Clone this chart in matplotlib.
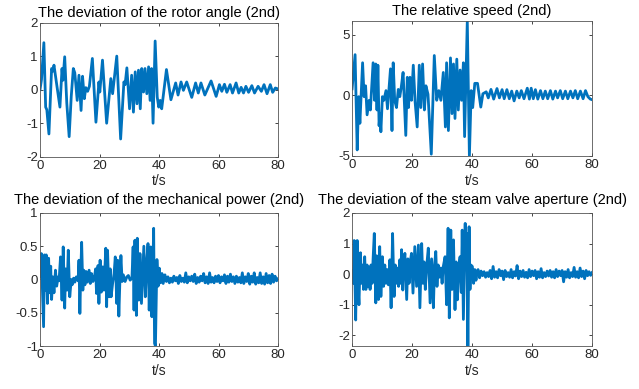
import numpy as np
import matplotlib
matplotlib.use("Agg")
import matplotlib.pyplot as plt

plt.rcParams['font.family'] = ['Liberation Sans', 'DejaVu Sans']
plt.rcParams['axes.unicode_minus'] = False

line_color = '#0072BD'

# rotor angle deviation (turning points)
angle_t = [0, 0.5, 1.3, 1.9, 2.3, 3.0, 3.9, 4.3, 4.7, 5.7, 6.7, 7.4, 7.7, 8.3, 9.0, 9.8,
           10.5, 11.2, 11.7, 12.5, 13.1, 13.8, 14.3, 14.9, 15.4, 16.0, 16.6, 17.6, 18.8,
           19.8, 20.1, 21.0, 22.4, 23.8, 24.4, 25.8, 27.1, 28.2, 28.6, 29.2, 30.1, 30.8,
           31.4, 32.0, 32.6, 33.1, 33.7, 34.2, 34.8, 35.3, 35.9, 36.5, 37.0, 37.5, 38.0,
           38.7, 39.4, 39.9, 40.4, 40.9, 42.5, 44.0, 45.6, 46.4, 47.4, 48.2, 49.3, 51.0,
           52.3, 53.2, 54.1, 55.4, 57.5, 59.2, 60.3, 61.1, 62.0, 62.8, 63.9, 64.7, 65.9,
           66.8, 67.6, 68.4, 69.2, 70.1, 71.2, 72.1, 73.3, 74.4, 75.3, 76.3, 77.4, 78.2,
           79.1, 80.0]
angle_v = [0, 0.3, 1.4, -0.52, -0.6, -1.32, 0.63, 0.55, 0.73, 0.1, -0.52, 0.63, 0.28, 0.98,
           -0.4, -1.4, -0.2, 0.63, 0.5, -0.32, 0.43, -0.62, 0.4, -0.27, 0.06, -0.05, 0.1,
           0.93, -0.97, 0.23, -0.07, 0.88, -1.0, 0.33, -0.12, 1.0, -1.47, 0.23, 0.15, 0.65,
           -0.57, 0.43, -0.67, 0.53, -0.42, 0.58, -0.57, 0.63, -0.07, 0.63, -0.12, 0.68,
           -0.32, 0.63, -1.0, 1.45, -0.22, -0.52, -0.32, -0.57, 0.6, -0.3, 0.2, -0.16,
           0.23, -0.02, 0.23, -0.23, 0.2, -0.1, 0.2, -0.16, 0.26, -0.2, 0.15, -0.05, 0.16,
           -0.08, 0.15, -0.1, 0.2, -0.1, 0.07, -0.1, 0.1, -0.08, 0.12, -0.1, 0.1, -0.05,
           0.15, -0.12, 0.15, -0.08, 0.05, 0.02]

# relative speed
speed_t = [0, 1.0, 1.7, 2.2, 2.6, 3.5, 4.0, 4.5, 5.0, 5.7, 6.1, 7.0, 7.5, 7.9, 8.3, 8.6,
           9.0, 9.3, 9.6, 10.1, 10.6, 11.3, 11.8, 12.8, 13.3, 13.7, 14.2, 14.8, 15.4, 15.9,
           16.4, 17.0, 17.9, 18.4, 18.8, 19.3, 19.8, 20.4, 21.0, 21.7, 22.4, 22.9, 23.5,
           24.1, 24.6, 25.3, 26.4, 27.4, 28.2, 28.9, 29.6, 30.4, 31.1, 31.5, 32.1, 32.8,
           33.3, 33.8, 34.3, 34.9, 35.4, 36.0, 36.5, 37.1, 37.5, 38.4, 39.1, 39.7, 40.2,
           40.9, 41.8, 42.9, 43.6, 44.7, 45.4, 46.3, 47.2, 48.3, 49.1, 50.0, 50.7, 51.6,
           52.4, 53.2, 54.0, 54.9, 55.7, 56.4, 57.3, 58.4, 59.1, 59.7, 60.4, 61.1, 61.9,
           62.8, 63.6, 64.4, 65.2, 66.1, 66.9, 67.8, 68.5, 69.4, 70.2, 71.1, 71.9, 72.8,
           73.6, 74.4, 75.2, 76.1, 77.0, 77.8, 78.6, 79.4, 80.0]
speed_v = [0.55, 3.37, -4.5, -0.1, -2.3, 2.7, -0.1, 0.8, -1.6, -0.4, -1.2, 2.7, -0.4, 2.6,
           -1.2, 2.5, -2.5, -1.5, -3.0, -0.1, -0.4, 0.4, -1.1, 2.2, -2.9, 2.7, -0.4, -1.0,
           0.5, -0.1, 0.7, 1.9, -3.3, 1.5, -1.0, 1.5, -0.4, 2.5, -0.5, -2.6, 2.5, -1.0, 2.6,
           -1.2, 0.8, 0.1, -4.85, 3.3, -0.4, 0.4, -0.4, 1.9, -2.6, 2.7, -2.9, 3.1, -1.5, 2.6,
           -1.9, 3.0, -1.2, 2.1, -0.4, 2.7, -3.4, 6.15, -5.05, 0.4, -1.0, 1.0, 1.0, -0.96,
           0.14, 0.3, -0.2, 0.5, -0.3, 0.57, -0.2, 0.48, -0.27, 0.48, -0.27, 0.36, -0.45,
           0.36, -0.2, 0.4, -0.27, 0.6, -0.3, 0.6, -0.27, 0.48, -0.3, 0.4, -0.27, 0.36,
           -0.27, 0.4, -0.3, 0.36, -0.2, 0.4, -0.27, 0.36, -0.27, 0.36, -0.2, 0.4, -0.27,
           0.36, -0.27, 0.4, -0.1, -0.3, -0.35]

# mechanical power deviation: burst part, then a tail sampled every 0.5 s from 42 s
power_t = [0, 0.45, 0.9, 1.2, 1.5, 1.8, 2.1, 2.5, 2.9, 3.2, 3.6, 3.9, 4.3, 4.7, 5.2, 5.6,
           6.1, 6.4, 6.9, 7.4, 7.8, 8.3, 8.6, 9.1, 9.5, 10.0, 10.5, 10.8, 11.3, 11.7, 12.2,
           12.8, 13.1, 13.4, 13.7, 14.0, 14.4, 14.7, 15.1, 15.5, 15.9, 16.5, 16.9, 17.3,
           17.8, 18.3, 18.7, 19.0, 19.5, 19.8, 20.2, 20.6, 21.1, 21.5, 22.1, 22.4, 22.7,
           23.2, 23.6, 23.9, 24.4, 24.9, 25.3, 25.8, 26.1, 26.5, 26.9, 27.2, 27.6, 28.0,
           28.6, 29.2, 29.7, 30.3, 30.9, 31.3, 31.6, 31.9, 32.4, 32.7, 33.2, 33.6, 34.1,
           34.9, 35.4, 35.9, 36.3, 36.7, 37.2, 37.6, 38.2, 38.5, 38.8, 39.3, 39.7, 40.1,
           40.5, 41.0, 41.4]
power_v = [0.04, 0.39, -0.26, -0.71, 0.37, -0.16, 0.37, -0.36, 0.32, -0.2, 0.2, -0.3, 0.04,
           -0.2, 0.14, -0.1, 0.04, -0.02, 0.34, -0.31, 0.49, -0.43, 0.16, -0.16, 0.44, -0.26,
           0.0, -0.08, 0.02, -0.04, 0.04, -0.02, 0.29, -0.51, 0.1, 0.56, -0.16, 0.14, -0.08,
           0.12, -0.04, 0.14, -0.06, 0.09, -0.03, 0.04, 0.16, -0.21, 0.21, -0.36, 0.29,
           -0.19, 0.19, -0.16, 0.47, -0.41, 0.44, -0.26, 0.16, -0.26, -0.06, 0.09, 0.34,
           -0.36, 0.29, -0.55, 0.05, 0.36, -0.03, 0.07, -0.03, 0.04, 0.06, -0.01, 0.02,
           0.49, -0.46, 0.59, -0.54, 0.62, -0.31, 0.39, -0.36, 0.5, -0.26, 0.29, 0.54, -0.46,
           0.49, -0.56, 0.77, -0.96, -1.0, 0.3, -0.1, 0.17, -0.05, 0.09, -0.06]
power_tail = [0.07, -0.03, 0.04, -0.05, 0.02, -0.04, 0.05, -0.02, 0.03, -0.06, 0.06, -0.03,
              0.02, -0.04, 0.1, -0.05, 0.04, -0.02, 0.05, -0.03, 0.08, -0.06, 0.03, -0.04,
              0.05, -0.02, 0.09, -0.05, 0.04, -0.06, 0.1, -0.04, 0.03, -0.05, 0.05, -0.03,
              0.06, -0.05, 0.04, -0.02, 0.07, -0.06, 0.05, -0.04, 0.08, -0.03, 0.04, -0.06,
              0.05, -0.04, 0.03, -0.05, 0.1, -0.06, 0.04, -0.03, 0.09, -0.07, 0.05, -0.04,
              0.1, -0.07, 0.03, -0.05, 0.1, -0.06, 0.04, -0.07, 0.09, -0.05, 0.06, -0.06,
              0.08, -0.04, 0.05, -0.02, 0.01]

# steam valve aperture deviation: burst part, then a tail sampled every 0.5 s from 42 s
valve_t = [0, 0.4, 0.7, 1.0, 1.2, 1.5, 1.7, 2.0, 2.3, 2.6, 2.8, 3.1, 3.5, 3.8, 4.2, 4.6,
           5.0, 5.3, 5.7, 6.0, 6.3, 6.7, 7.0, 7.4, 7.9, 8.2, 8.5, 8.8, 9.2, 9.6, 10.1, 10.5,
           10.9, 11.3, 11.7, 12.1, 12.6, 13.0, 13.5, 14.0, 14.4, 14.8, 15.2, 15.5, 15.9,
           16.2, 16.5, 16.9, 17.2, 17.6, 18.2, 18.6, 19.0, 19.4, 19.8, 20.3, 20.9, 21.5,
           22.1, 22.6, 23.2, 23.6, 24.0, 24.4, 24.9, 25.4, 26.0, 26.5, 27.1, 27.5, 27.9,
           28.3, 28.7, 29.1, 29.6, 30.0, 30.4, 31.0, 31.5, 32.0, 32.4, 32.9, 33.3, 33.8,
           34.3, 34.7, 35.1, 35.6, 36.0, 36.4, 36.7, 37.1, 37.7, 37.9, 38.2, 38.6, 39.0,
           39.3, 39.6, 40.1, 40.5, 40.9, 41.3, 41.7]
valve_v = [0.1, -0.3, 1.1, -0.5, -1.5, 0.4, 1.1, -0.4, -1.0, 0.2, 0.7, -0.3, 0.3, -0.5,
           0.57, -0.5, 0.3, -0.4, 0.2, -0.5, 0.3, -0.3, 0.5, 1.33, -0.94, 0.6, -0.3, -0.83,
           0.9, -0.73, 0.57, -0.4, 0.3, -0.3, 0.15, -0.35, 0.47, -1.1, 1.33, -0.73, 0.3,
           -0.3, 0.2, -0.4, 0.47, -0.3, 0.8, -0.52, 0.3, 0.68, -0.83, 0.5, -0.3, 0.4, 0.68,
           -0.62, 0.9, -0.4, 0.95, -1.1, 1.0, -0.3, 0.4, -0.5, 0.3, 0.85, -0.94, 0.5, -1.1,
           0.3, 0.74, -0.4, 0.3, -0.1, 0.2, -0.3, 0.25, 0.57, -1.0, 1.5, -1.43, 1.44, -0.5,
           1.12, -1.16, 0.4, -0.84, 0.3, 0.57, -0.6, 1.44, -1.48, 1.66, 0.2, 1.33, -2.4,
           1.55, -0.5, 0.3, 0.25, -0.3, 0.15, -0.2, 0.1]
valve_tail = [0.15, -0.12, 0.1, -0.05, 0.08, -0.1, 0.05, -0.08, 0.12, -0.15, 0.25, -0.1,
              0.08, -0.12, 0.15, -0.05, 0.1, -0.18, 0.12, -0.08, 0.05, -0.1, 0.15, -0.12,
              0.08, -0.06, 0.28, -0.15, 0.1, -0.08, 0.12, -0.1, 0.06, -0.12, 0.15, -0.08,
              0.1, -0.05, 0.12, -0.15, 0.08, -0.1, 0.18, -0.12, 0.05, -0.08, 0.1, -0.06,
              0.12, -0.1, 0.08, -0.12, 0.15, -0.08, 0.1, -0.05, 0.12, -0.25, 0.08, -0.1,
              0.15, -0.12, 0.05, -0.08, 0.22, -0.1, 0.08, -0.12, 0.2, -0.08, 0.1, -0.15,
              0.12, -0.05, 0.08, -0.04, 0.05]

tail_start = 42.0
tail_step = 0.5

titles = ['The deviation of the rotor angle (2nd)',
          'The relative speed (2nd)',
          'The deviation of the mechanical power (2nd)',
          'The deviation of the steam valve aperture (2nd)']
x_ticks = [0, 20, 40, 60, 80]
y_ticks = [[-2, -1, 0, 1, 2], [-5, 0, 5], [-1, -0.5, 0, 0.5, 1], [-2, -1, 0, 1, 2]]
y_tick_labels = [['-2', '-1', '0', '1', '2'], ['-5', '0', '5'],
                 ['-1', '-0.5', '0', '0.5', '1'], ['-2', '-1', '0', '1', '2']]
y_limits = [(-2, 2), (-5, 6.15), (-1, 1), (-2.35, 2)]
title_pads = [4, 4, 6.5, 6.5]


def with_tail(t, v, tail):
    tt = tail_start + tail_step * np.arange(len(tail))
    return np.concatenate([t, tt]), np.concatenate([v, tail])


series = [(np.array(angle_t), np.array(angle_v)),
          (np.array(speed_t), np.array(speed_v)),
          with_tail(power_t, power_v, power_tail),
          with_tail(valve_t, valve_v, valve_tail)]

fig = plt.figure(figsize=(6.39, 3.89), dpi=100)
boxes = [[0.0626, 0.597, 0.3725, 0.345],
         [0.551, 0.599, 0.3756, 0.347],
         [0.0626, 0.1105, 0.3725, 0.342],
         [0.551, 0.1105, 0.3756, 0.342]]

for i, box in enumerate(boxes):
    ax = fig.add_axes(box)
    t, v = series[i]
    ax.plot(t, v, color=line_color, lw=2.0, solid_joinstyle='round')
    ax.set_xlim(0, 80)
    ax.set_ylim(*y_limits[i])
    ax.set_xticks(x_ticks)
    ax.set_yticks(y_ticks[i])
    ax.set_yticklabels(y_tick_labels[i])
    ax.tick_params(direction='in', top=True, right=True, length=2.5, width=0.6,
                   labelsize=9.5, colors='#262626', pad=2)
    ax.tick_params(axis='y', pad=1.5)
    for s in ax.spines.values():
        s.set_color('#555555')
        s.set_linewidth(0.6)
    ax.set_xlabel('t/s', fontsize=10, color='#262626', labelpad=2)
    ax.set_title(titles[i], fontsize=10.5, pad=title_pads[i])

fig.savefig('out.png', dpi=100, facecolor='white')
